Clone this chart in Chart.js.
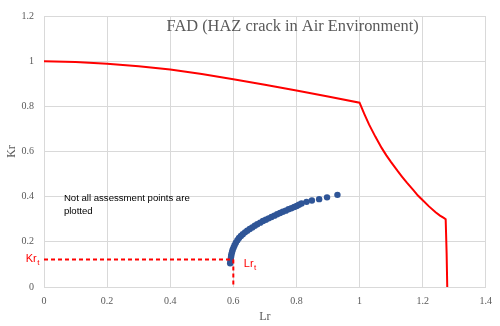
<!DOCTYPE html>
<html>
<head>
<meta charset="utf-8">
<script src="https://cdn.jsdelivr.net/npm/chart.js@4/dist/chart.umd.min.js"></script>
<style>
  html, body { margin: 0; padding: 0; background: #fff; }
  #wrap { width: 500px; height: 326px; }
</style>
</head>
<body>
<div id="wrap"><canvas id="fadChart" width="500" height="326"></canvas></div>
<script>
// FAD curve (Lr, Kr)
const fadLr = [0, 0.1, 0.2, 0.3, 0.4, 0.5, 0.6, 0.7, 0.8, 0.9, 1.0, 1.015, 1.03, 1.05, 1.07, 1.085, 1.10, 1.12, 1.135, 1.15, 1.17, 1.185, 1.202, 1.22, 1.241, 1.255, 1.267, 1.273, 1.276, 1.278];
const fadKr = [1.0, 0.996, 0.989, 0.978, 0.963, 0.943, 0.920, 0.896, 0.870, 0.844, 0.816, 0.767, 0.72, 0.666, 0.616, 0.583, 0.553, 0.515, 0.488, 0.462, 0.43, 0.405, 0.382, 0.357, 0.331, 0.316, 0.306, 0.30, 0.15, 0.0];

// assessment points
const ptLr = [0.590, 0.591, 0.592, 0.593, 0.594, 0.596, 0.598, 0.601, 0.604, 0.608, 0.613, 0.618, 0.624, 0.630, 0.637, 0.644, 0.652, 0.660, 0.668, 0.676, 0.685, 0.694, 0.703, 0.712, 0.721, 0.730, 0.739, 0.748, 0.757, 0.766, 0.775, 0.784, 0.793, 0.801, 0.808, 0.816, 0.832, 0.849, 0.872, 0.897, 0.930];
const ptKr = [0.105, 0.115, 0.125, 0.135, 0.145, 0.155, 0.165, 0.175, 0.185, 0.196, 0.207, 0.217, 0.226, 0.234, 0.242, 0.249, 0.257, 0.264, 0.271, 0.278, 0.285, 0.292, 0.298, 0.304, 0.310, 0.316, 0.322, 0.328, 0.333, 0.338, 0.344, 0.349, 0.354, 0.359, 0.364, 0.370, 0.377, 0.383, 0.389, 0.397, 0.408];

// transition point
const lrT = 0.6;
const krT = 0.122;

const xTicks = [0, 0.2, 0.4, 0.6, 0.8, 1, 1.2, 1.4];
const yTicks = [0, 0.2, 0.4, 0.6, 0.8, 1, 1.2];

const RED = '#ff0000';
const BLUE = '#2f5597';
const GRID = '#d9d9d9';
const GREY_TEXT = '#595959';

const toPoints = (xs, ys) => xs.map((x, i) => ({ x, y: ys[i] }));
const fmt = (v) => String(Number(v.toFixed(1)));

// Chart title, note and Kr_t / Lr_t labels drawn inside the plot
const fadLabels = {
  id: 'fadLabels',
  afterDatasetsDraw(chart) {
    const { ctx, chartArea } = chart;
    const xs = chart.scales.x;
    const ys = chart.scales.y;
    ctx.save();

    ctx.fillStyle = GREY_TEXT;
    ctx.font = '16.4px "Liberation Serif", "Times New Roman", serif';
    ctx.textAlign = 'center';
    ctx.textBaseline = 'alphabetic';
    ctx.fillText('FAD (HAZ crack in Air Environment)', xs.getPixelForValue(0.788), ys.getPixelForValue(1.1325));

    ctx.fillStyle = '#000';
    ctx.font = '9.6px "Liberation Sans", Arial, sans-serif';
    ctx.textAlign = 'left';
    const noteX = xs.getPixelForValue(0.063);
    const noteY = ys.getPixelForValue(0.379);
    ctx.fillText('Not all assessment points are', noteX, noteY);
    ctx.fillText('plotted', noteX, noteY + 13);

    ctx.fillStyle = RED;
    const drawSub = (main, sub, x, y, align) => {
      ctx.font = '11px "Liberation Sans", Arial, sans-serif';
      const w1 = ctx.measureText(main).width;
      ctx.font = '8px "Liberation Sans", Arial, sans-serif';
      const w2 = ctx.measureText(sub).width;
      const left = align === 'right' ? x - w1 - w2 : x;
      ctx.textAlign = 'left';
      ctx.font = '11px "Liberation Sans", Arial, sans-serif';
      ctx.fillText(main, left, y);
      ctx.font = '8px "Liberation Sans", Arial, sans-serif';
      ctx.fillText(sub, left + w1 + 0.5, y + 2.5);
    };
    const yKr = ys.getPixelForValue(krT);
    drawSub('Kr', 't', chartArea.left - 5, yKr + 3, 'right');
    drawSub('Lr', 't', xs.getPixelForValue(lrT) + 10.5, yKr + 8, 'left');

    ctx.restore();
  }
};

new Chart(document.getElementById('fadChart'), {
  type: 'scatter',
  data: {
    datasets: [
      {
        label: 'FAD',
        data: toPoints(fadLr, fadKr),
        showLine: true,
        borderColor: RED,
        borderWidth: 2,
        pointRadius: 0,
        tension: 0
      },
      {
        label: 'Kr_t',
        data: toPoints([0, lrT], [krT, krT]),
        showLine: true,
        borderColor: RED,
        borderWidth: 2,
        borderDash: [4, 3],
        pointRadius: 0
      },
      {
        label: 'Lr_t',
        data: toPoints([lrT, lrT], [krT, 0]),
        showLine: true,
        borderColor: RED,
        borderWidth: 2,
        borderDash: [4, 3],
        pointRadius: 0
      },
      {
        label: 'Assessment points',
        data: toPoints(ptLr, ptKr),
        showLine: false,
        pointRadius: 3.2,
        pointBorderWidth: 0,
        pointBackgroundColor: BLUE,
        pointBorderColor: BLUE
      }
    ]
  },
  options: {
    responsive: false,
    animation: false,
    devicePixelRatio: 1,
    layout: { padding: { top: 8, right: 13, bottom: 0, left: 0 } },
    plugins: {
      legend: { display: false },
      tooltip: { enabled: false }
    },
    scales: {
      x: {
        type: 'linear',
        min: xTicks[0],
        max: xTicks[xTicks.length - 1],
        afterBuildTicks: (s) => { s.ticks = xTicks.map((v) => ({ value: v })); },
        afterFit: (s) => { s.height = 39; },
        grid: { color: GRID, drawTicks: false },
        border: { color: GRID },
        ticks: {
          padding: 8,
          color: GREY_TEXT,
          font: { family: '"Liberation Serif", "Times New Roman", serif', size: 10 },
          callback: (v) => fmt(v)
        },
        title: {
          display: true,
          text: 'Lr',
          color: GREY_TEXT,
          font: { family: '"Liberation Serif", "Times New Roman", serif', size: 12 },
          padding: { top: 0, bottom: 2 }
        }
      },
      y: {
        type: 'linear',
        min: yTicks[0],
        max: yTicks[yTicks.length - 1],
        afterBuildTicks: (s) => { s.ticks = yTicks.map((v) => ({ value: v })); },
        afterFit: (s) => { s.width = 44; },
        grid: { color: GRID, drawTicks: false },
        border: { color: GRID },
        ticks: {
          padding: 10,
          color: GREY_TEXT,
          font: { family: '"Liberation Serif", "Times New Roman", serif', size: 10 },
          callback: (v) => fmt(v)
        },
        title: {
          display: true,
          text: 'Kr',
          color: GREY_TEXT,
          font: { family: '"Liberation Serif", "Times New Roman", serif', size: 12 },
          padding: { top: 5, bottom: 0 }
        }
      }
    }
  },
  plugins: [fadLabels]
});
</script>
</body>
</html>
